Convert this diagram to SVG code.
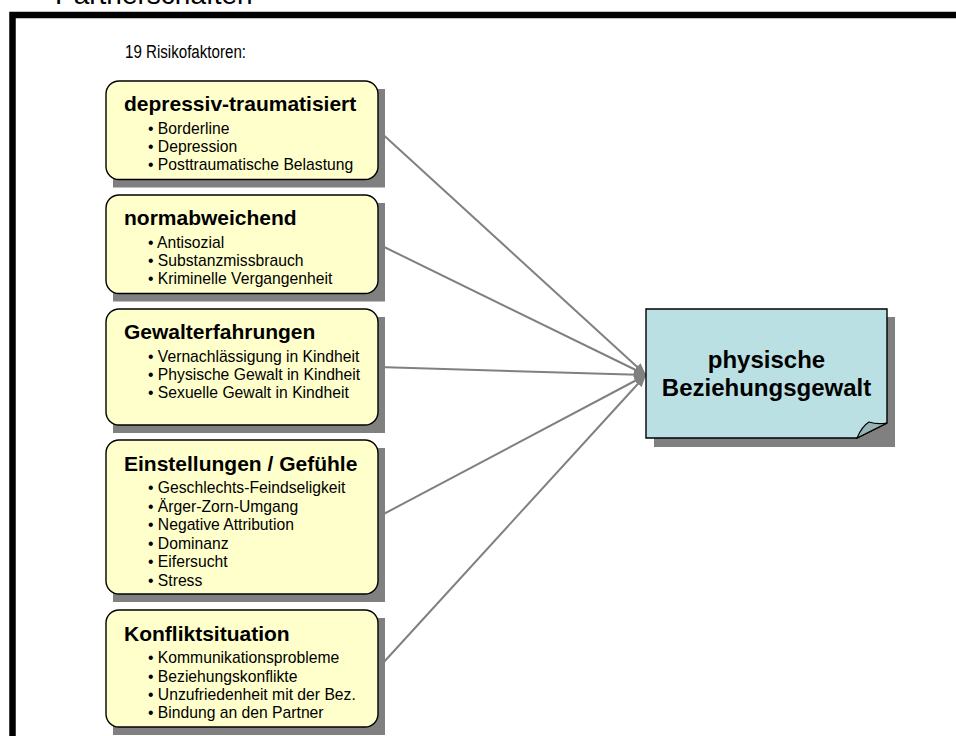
<svg xmlns="http://www.w3.org/2000/svg" width="956" height="736" viewBox="0 0 956 736">
<style>
text{font-family:"Liberation Sans",Arial,sans-serif;fill:#000}
.t{font-size:21px;font-weight:bold}
.i{font-size:15.7px}
.box{fill:#FFFFCC;stroke:#000;stroke-width:1.4}
.sh{fill:#808080}
.con{stroke:#808080;stroke-width:2;fill:none;marker-end:url(#ah)}
.tg{font-size:24px;font-weight:bold}
</style>
<defs>
<marker id="ah" markerUnits="userSpaceOnUse" markerWidth="12" markerHeight="10" refX="12" refY="5" orient="auto">
<path d="M0,0 L12,5 L0,10 Z" fill="#808080"/>
</marker>
</defs>
<rect x="0" y="0" width="956" height="736" fill="#fff"/>
<text x="55" y="4" style="font-size:28px">Partnerschaften</text>
<rect x="12.5" y="15" width="1000" height="1000" fill="none" stroke="#000" stroke-width="6.5"/>
<text x="125" y="58" style="font-size:18px" textLength="121" lengthAdjust="spacingAndGlyphs">19 Risikofaktoren:</text>

<g id="connectors">
<line class="con" x1="378" y1="130" x2="646" y2="375"/>
<line class="con" x1="378" y1="244" x2="646" y2="375"/>
<line class="con" x1="378" y1="367" x2="646" y2="375"/>
<line class="con" x1="378" y1="517" x2="646" y2="375"/>
<line class="con" x1="378" y1="668.5" x2="646" y2="375"/>
</g>

<g id="n1">
<rect class="sh" x="113" y="89" width="272" height="98.5"/>
<rect class="box" x="106" y="81" width="272" height="98.5" rx="13"/>
<text class="t" x="124" y="111.3">depressiv-traumatisiert</text>
<text class="i" x="148" y="133.7">• Borderline</text>
<text class="i" x="148" y="152">• Depression</text>
<text class="i" x="148" y="170.3">• Posttraumatische Belastung</text>
</g>

<g id="n2">
<rect class="sh" x="113" y="203" width="272" height="98.5"/>
<rect class="box" x="106" y="195" width="272" height="98.5" rx="13"/>
<text class="t" x="124" y="225.3">normabweichend</text>
<text class="i" x="148" y="247.7">• Antisozial</text>
<text class="i" x="148" y="266">• Substanzmissbrauch</text>
<text class="i" x="148" y="284.3">• Kriminelle Vergangenheit</text>
</g>

<g id="n3">
<rect class="sh" x="113" y="317" width="272" height="116"/>
<rect class="box" x="106" y="309" width="272" height="116" rx="13"/>
<text class="t" x="124" y="339.3">Gewalterfahrungen</text>
<text class="i" x="148" y="361.7">• Vernachlässigung in Kindheit</text>
<text class="i" x="148" y="380">• Physische Gewalt in Kindheit</text>
<text class="i" x="148" y="398.3">• Sexuelle Gewalt in Kindheit</text>
</g>

<g id="n4">
<rect class="sh" x="113" y="448" width="272" height="154"/>
<rect class="box" x="106" y="440" width="272" height="154" rx="13"/>
<text class="t" x="124" y="470.5">Einstellungen / Gefühle</text>
<text class="i" x="148" y="493">• Geschlechts-Feindseligkeit</text>
<text class="i" x="148" y="511.5">• Ärger-Zorn-Umgang</text>
<text class="i" x="148" y="530">• Negative Attribution</text>
<text class="i" x="148" y="548.5">• Dominanz</text>
<text class="i" x="148" y="567">• Eifersucht</text>
<text class="i" x="148" y="585.5">• Stress</text>
</g>

<g id="n5">
<rect class="sh" x="113" y="618" width="272" height="117"/>
<rect class="box" x="106" y="610" width="272" height="117" rx="13"/>
<text class="t" x="124" y="640.5">Konfliktsituation</text>
<text class="i" x="148" y="663.3">• Kommunikationsprobleme</text>
<text class="i" x="148" y="681.6">• Beziehungskonflikte</text>
<text class="i" x="148" y="700">• Unzufriedenheit mit der Bez.</text>
<text class="i" x="148" y="718.3">• Bindung an den Partner</text>
</g>

<g id="target">
<rect class="sh" x="654" y="317" width="241" height="130"/>
<path d="M646,309 H887 V423 L857,438 H646 Z" fill="#BBE0E3" stroke="#000" stroke-width="1.4"/>
<path d="M857,438 C860,431 864,425 869,422 C875,424 881,424 887,423 Z" fill="#96B3B6" stroke="#000" stroke-width="1.2"/>
<text class="tg" x="766.5" y="368.3" text-anchor="middle">physische</text>
<text class="tg" x="766.5" y="396" text-anchor="middle">Beziehungsgewalt</text>
</g>
</svg>
